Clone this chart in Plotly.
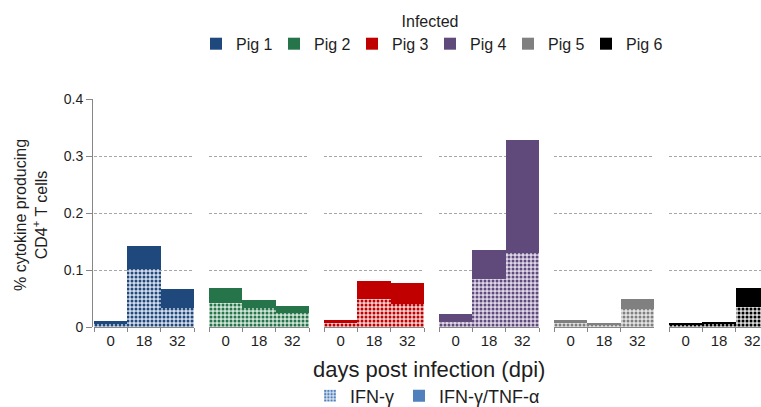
import plotly.graph_objects as go

# ---------------- data ----------------
days = ['0', '18', '32']
pig_names = ['Pig 1', 'Pig 2', 'Pig 3', 'Pig 4', 'Pig 5', 'Pig 6']

# IFN-gamma single producers (patterned, bottom segment)
ifng_pig1 = [0.006, 0.101, 0.034]
ifng_pig2 = [0.042, 0.033, 0.025]
ifng_pig3 = [0.007, 0.050, 0.041]
ifng_pig4 = [0.009, 0.084, 0.130]
ifng_pig5 = [0.0075, 0.004, 0.032]
ifng_pig6 = [0.004, 0.005, 0.035]

# IFN-gamma/TNF-alpha double producers (solid, top segment)
dual_pig1 = [0.004, 0.041, 0.033]
dual_pig2 = [0.026, 0.014, 0.012]
dual_pig3 = [0.006, 0.031, 0.037]
dual_pig4 = [0.014, 0.051, 0.198]
dual_pig5 = [0.0045, 0.0035, 0.018]
dual_pig6 = [0.0025, 0.004, 0.033]

ifng_all = [ifng_pig1, ifng_pig2, ifng_pig3, ifng_pig4, ifng_pig5, ifng_pig6]
dual_all = [dual_pig1, dual_pig2, dual_pig3, dual_pig4, dual_pig5, dual_pig6]

y_tickvals = [0, 0.1, 0.2, 0.3, 0.4]
y_ticktext = ['0', '0.1', '0.2', '0.3', '0.4']

# ---------------- style ----------------
colors = ['#1f497d', '#25744a', '#c00000', '#604a7b', '#808080', '#000000']
tints = ['#d3dcea', '#d0e4d7', '#f5d0d0', '#ded7e8', '#e4e4e4', '#dadada']
axis_col = '#868686'
grid_col = '#a6a6a6'
txt_col = '#1e1e1e'
FONT = 'Liberation Sans, Arial, sans-serif'

W, H = 761, 407
ML, MT = 92, 99          # plot area left / top
PB = 327                 # plot area bottom
MB = H - PB
MR = 0
PW = W - ML - MR
PH = PB - MT


def pxx(p):
    """pixel x -> paper x"""
    return (p - ML) / PW


def pxy(p):
    """pixel y -> paper y"""
    return (PB - p) / PH


fig = go.Figure()

for i in range(6):
    xa = 'x' if i == 0 else f'x{i+1}'
    ya = 'y' if i == 0 else f'y{i+1}'
    fig.add_trace(go.Bar(
        x=days, y=ifng_all[i], xaxis=xa, yaxis=ya,
        name='IFN-γ', showlegend=False,
        marker=dict(color=tints[i], line=dict(width=0),
                    pattern=dict(shape='.', fgcolor=colors[i], bgcolor=tints[i],
                                 size=4, solidity=0.45, fillmode='replace')),
        hoverinfo='skip'))
    fig.add_trace(go.Bar(
        x=days, y=dual_all[i], xaxis=xa, yaxis=ya,
        name=pig_names[i], legend='legend', showlegend=True,
        marker=dict(color=colors[i], line=dict(width=0)),
        hoverinfo='skip'))

# legend-only entries for the cell types (no drawn value)
fig.add_trace(go.Bar(
    x=days[:1], y=[None], name='IFN-γ', legend='legend2', xaxis='x', yaxis='y',
    marker=dict(color='#d8e2f0', line=dict(width=0),
                pattern=dict(shape='.', fgcolor='#4f81bd', bgcolor='#d8e2f0',
                             size=4, solidity=0.45, fillmode='replace')),
    hoverinfo='skip'))
fig.add_trace(go.Bar(
    x=days[:1], y=[None], name='IFN-γ/TNF-α', legend='legend2', xaxis='x', yaxis='y',
    marker=dict(color='#4f81bd', line=dict(width=0)),
    hoverinfo='skip'))

layout = dict(
    width=W, height=H,
    margin=dict(l=ML, r=MR, t=MT, b=MB, autoexpand=False),
    paper_bgcolor='white', plot_bgcolor='white',
    font=dict(family=FONT, color=txt_col, size=14),
    barmode='stack', bargap=0,
    showlegend=True,
)

for i in range(6):
    left = 94 + 115 * i
    right = 194 + 115 * i
    d0 = pxx(left)
    d1 = min(1.0, pxx(right))
    if right > W:
        xr = [-0.5, -0.5 + 3 * (W - left) / 100.0]
    else:
        xr = [-0.5, 2.5]
    xkey = 'xaxis' if i == 0 else f'xaxis{i+1}'
    ykey = 'yaxis' if i == 0 else f'yaxis{i+1}'
    layout[xkey] = dict(
        domain=[d0, d1], anchor='y' if i == 0 else f'y{i+1}',
        type='category', categoryorder='array', categoryarray=days,
        range=xr, showline=True, linecolor=axis_col, linewidth=1,
        ticks='outside', tickson='boundaries', ticklen=4, tickcolor=axis_col,
        tickfont=dict(size=15), showgrid=False, zeroline=False, fixedrange=True)
    ya = dict(
        domain=[0, 1], range=[0, 0.4],
        tickvals=y_tickvals, ticktext=y_ticktext,
        showgrid=True, gridcolor=grid_col, gridwidth=1, griddash='3px,2px',
        zeroline=False, fixedrange=True)
    if i == 0:
        ya.update(anchor='free', position=0, showline=True, linecolor=axis_col,
                  linewidth=1, ticks='outside', ticklen=6, tickcolor=axis_col,
                  tickfont=dict(size=14))
    else:
        ya.update(anchor=f'x{i+1}', showticklabels=False, showline=False, ticks='')
    layout[ykey] = ya

layout['legend'] = dict(
    orientation='h', x=pxx(430), xanchor='center',
    y=pxy(6), yanchor='top', entrywidth=33,
    font=dict(size=16), bgcolor='rgba(0,0,0,0)',
    title=dict(text='Infected', side='top center', font=dict(size=16)),
    traceorder='normal', itemclick=False, itemdoubleclick=False)
layout['legend2'] = dict(
    orientation='h', x=pxx(310), xanchor='left',
    y=pxy(396), yanchor='middle',
    font=dict(size=18), bgcolor='rgba(0,0,0,0)',
    traceorder='normal', itemclick=False, itemdoubleclick=False)

layout['annotations'] = [
    dict(text='days post infection (dpi)', xref='paper', yref='paper',
         x=pxx(429), y=pxy(369),
         xanchor='center', yanchor='middle', showarrow=False,
         font=dict(size=22)),
    dict(text='% cytokine producing<br>CD4<sup>+</sup> T cells',
         xref='paper', yref='paper',
         x=pxx(31), y=pxy(215),
         xanchor='center', yanchor='middle', textangle=-90, showarrow=False,
         font=dict(size=16)),
]

fig.update_layout(**layout)
fig.write_html(
    "out.html",
    config={'displayModeBar': False},
    post_script="document.body.style.margin='0px';"
                "document.body.style.overflow='hidden';")
